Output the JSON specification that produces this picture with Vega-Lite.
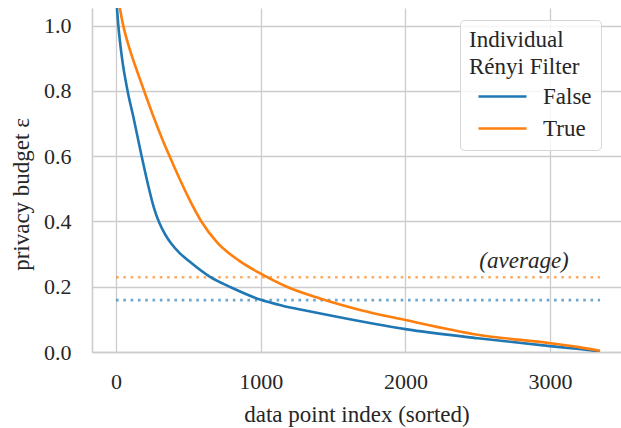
{
  "$schema": "https://vega.github.io/schema/vega-lite/v6.json",
  "autosize": {"type": "none"},
  "padding": {"left": 92, "top": 8, "right": 0, "bottom": 76},
  "width": 529,
  "height": 344,
  "config": {
    "font": "Liberation Serif",
    "view": {"stroke": null},
    "axis": {
      "labelColor": "#262626",
      "titleColor": "#262626",
      "labelFontSize": 22,
      "titleFontSize": 23,
      "titleFontWeight": "normal",
      "ticks": false,
      "domainColor": "#cccccc",
      "domainWidth": 1.6,
      "gridColor": "#cccccc",
      "gridWidth": 1.3
    }
  },
  "datasets": {
    "curves": [
      {"series": "False", "index": 0, "eps": 1.09},
      {"series": "False", "index": 16, "eps": 1.0},
      {"series": "False", "index": 40, "eps": 0.905},
      {"series": "False", "index": 80, "eps": 0.8},
      {"series": "False", "index": 120, "eps": 0.72},
      {"series": "False", "index": 177, "eps": 0.6},
      {"series": "False", "index": 220, "eps": 0.515},
      {"series": "False", "index": 260, "eps": 0.445},
      {"series": "False", "index": 300, "eps": 0.395},
      {"series": "False", "index": 340, "eps": 0.36},
      {"series": "False", "index": 380, "eps": 0.333},
      {"series": "False", "index": 440, "eps": 0.303},
      {"series": "False", "index": 500, "eps": 0.28},
      {"series": "False", "index": 650, "eps": 0.23},
      {"series": "False", "index": 800, "eps": 0.197},
      {"series": "False", "index": 1000, "eps": 0.16},
      {"series": "False", "index": 1150, "eps": 0.142},
      {"series": "False", "index": 1300, "eps": 0.128},
      {"series": "False", "index": 1500, "eps": 0.11},
      {"series": "False", "index": 2000, "eps": 0.07},
      {"series": "False", "index": 2500, "eps": 0.042},
      {"series": "False", "index": 3000, "eps": 0.018},
      {"series": "False", "index": 3200, "eps": 0.009},
      {"series": "False", "index": 3345, "eps": 0.002},
      {"series": "True", "index": 0, "eps": 1.12},
      {"series": "True", "index": 50, "eps": 1.0},
      {"series": "True", "index": 100, "eps": 0.92},
      {"series": "True", "index": 150, "eps": 0.855},
      {"series": "True", "index": 200, "eps": 0.793},
      {"series": "True", "index": 260, "eps": 0.72},
      {"series": "True", "index": 320, "eps": 0.652},
      {"series": "True", "index": 380, "eps": 0.59},
      {"series": "True", "index": 440, "eps": 0.53},
      {"series": "True", "index": 500, "eps": 0.474},
      {"series": "True", "index": 590, "eps": 0.4},
      {"series": "True", "index": 700, "eps": 0.335},
      {"series": "True", "index": 850, "eps": 0.28},
      {"series": "True", "index": 1000, "eps": 0.24},
      {"series": "True", "index": 1180, "eps": 0.2},
      {"series": "True", "index": 1410, "eps": 0.164},
      {"series": "True", "index": 1686, "eps": 0.129},
      {"series": "True", "index": 2000, "eps": 0.098},
      {"series": "True", "index": 2500, "eps": 0.053},
      {"series": "True", "index": 3000, "eps": 0.027},
      {"series": "True", "index": 3200, "eps": 0.015},
      {"series": "True", "index": 3345, "eps": 0.004}
    ],
    "averages": [
      {"series": "False", "start": 0, "end": 3345, "avg": 0.159},
      {"series": "True", "start": 0, "end": 3345, "avg": 0.229}
    ],
    "note": [
      {"index": 2820, "eps": 0.28, "label": "(average)"}
    ]
  },
  "layer": [
    {
      "data": {"name": "averages"},
      "mark": {"type": "rule", "strokeWidth": 2.6, "strokeDash": [2.6, 4.7], "strokeOpacity": 0.65},
      "encoding": {
        "x": {"field": "start", "type": "quantitative"},
        "x2": {"field": "end"},
        "y": {"field": "avg", "type": "quantitative"},
        "color": {"field": "series", "type": "nominal"}
      }
    },
    {
      "data": {"name": "curves"},
      "mark": {"type": "line", "strokeWidth": 2.6, "clip": true, "interpolate": "monotone"},
      "encoding": {
        "x": {
          "field": "index", "type": "quantitative",
          "scale": {"domain": [-166, 3490], "nice": false, "zero": false},
          "axis": {
            "values": [0, 1000, 2000, 3000], "format": "d",
            "labelPadding": 19.5,
            "title": "data point index (sorted)",
            "titleBaseline": "alphabetic",
            "titleY": 69,
            "labelFont": "Liberation Serif",
            "titleFont": "serif"
          }
        },
        "y": {
          "field": "eps", "type": "quantitative",
          "scale": {"domain": [0, 1.054], "nice": false},
          "axis": {
            "values": [0, 0.2, 0.4, 0.6, 0.8, 1.0], "format": ".1f",
            "labelPadding": 21,
            "title": "privacy budget ε",
            "titleBaseline": "alphabetic",
            "titleAngle": -90,
            "titleX": -64,
            "titleY": 186,
            "titleAlign": "center",
            "labelFont": "Liberation Serif",
            "titleFont": "serif"
          }
        },
        "color": {
          "field": "series", "type": "nominal",
          "scale": {"domain": ["False", "True"], "range": ["#1f77b4", "#ff7f0e"]},
          "legend": {
            "orient": "none",
            "legendX": 368,
            "legendY": 12,
            "title": ["Individual", "Rényi Filter"],
            "titleFont": "Liberation Serif",
            "titleFontSize": 23,
            "titleFontWeight": "normal",
            "titleColor": "#262626",
            "titleLineHeight": 27,
            "titlePadding": 4,
            "labelFont": "Liberation Serif",
            "labelFontSize": 23,
            "labelColor": "#262626",
            "symbolType": "M-2,0H2",
            "symbolSize": 576,
            "symbolStrokeWidth": 2.6,
            "symbolOffset": 20,
            "labelOffset": 27,
            "rowPadding": 6,
            "padding": 9,
            "fillColor": "rgba(255,255,255,0.8)",
            "strokeColor": "#d6d6d6",
            "cornerRadius": 4,
            "labelExpr": "datum.label + '\u00a0\u00a0\u00a0\u00a0\u00a0'",
            "symbolDash": [],
            "encode": {
              "symbols": {
                "update": {
                  "strokeOpacity": {"value": 1},
                  "opacity": {"value": 1},
                  "strokeDash": {"value": []}
                }
              }
            }
          }
        }
      }
    },
    {
      "data": {"name": "note"},
      "mark": {"type": "text", "font": "Liberation Serif", "fontStyle": "italic", "fontSize": 23, "color": "#262626", "align": "center", "baseline": "middle"},
      "encoding": {
        "x": {"field": "index", "type": "quantitative"},
        "y": {"field": "eps", "type": "quantitative"},
        "text": {"field": "label"}
      }
    }
  ]
}
